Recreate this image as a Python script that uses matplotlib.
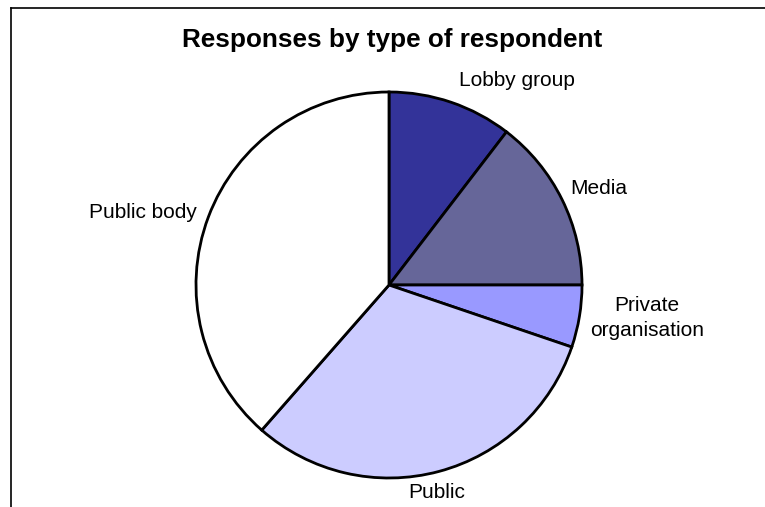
import matplotlib
matplotlib.use("Agg")
import matplotlib.pyplot as plt
from matplotlib.lines import Line2D

categories = ["Lobby group", "Media", "Private organisation", "Public", "Public body"]
values = [10, 14, 5, 30, 37]
colors = ["#333399", "#666699", "#9999FF", "#CCCCFF", "#FFFFFF"]
title = "Responses by type of respondent"

W, H = 765, 507
plt.rcParams['font.family'] = ['Liberation Sans', 'DejaVu Sans']
fig = plt.figure(figsize=(W / 100, H / 100), dpi=100)
ax = fig.add_axes([0, 0, 1, 1])

cx, cy, r = 389, 285, 193
# y axis is flipped (pixel coords), so data-ccw appears clockwise
wedges, _ = ax.pie(values, colors=colors, startangle=-90, counterclock=True,
                   center=(cx, cy), radius=r, frame=True,
                   wedgeprops=dict(edgecolor="black", linewidth=2))
ax.set_xlim(0, W)
ax.set_ylim(H, 0)
ax.set_aspect("equal")
ax.axis("off")

label_pos = {
    "Lobby group": (517, 80),
    "Media": (599, 189),
    "Private organisation": (647, 318),
    "Public": (437, 493),
    "Public body": (143, 212),
}
for c in categories:
    x, y = label_pos[c]
    txt = "Private\norganisation" if c == "Private organisation" else c
    ax.text(x, y, txt, ha="center", va="center", fontsize=15,
            linespacing=1.4, color="black")

ax.text(392, 47, title, ha="center", va="baseline", fontsize=18.8,
        fontweight="bold", color="black")

# outer frame
fig.add_artist(Line2D([11 / W, 1.0], [1 - 8 / H, 1 - 8 / H], transform=fig.transFigure,
                      color="black", linewidth=1.2))
fig.add_artist(Line2D([11 / W, 11 / W], [1 - 8 / H, 0], transform=fig.transFigure,
                      color="black", linewidth=1.2))

fig.savefig("out.png", dpi=100)
